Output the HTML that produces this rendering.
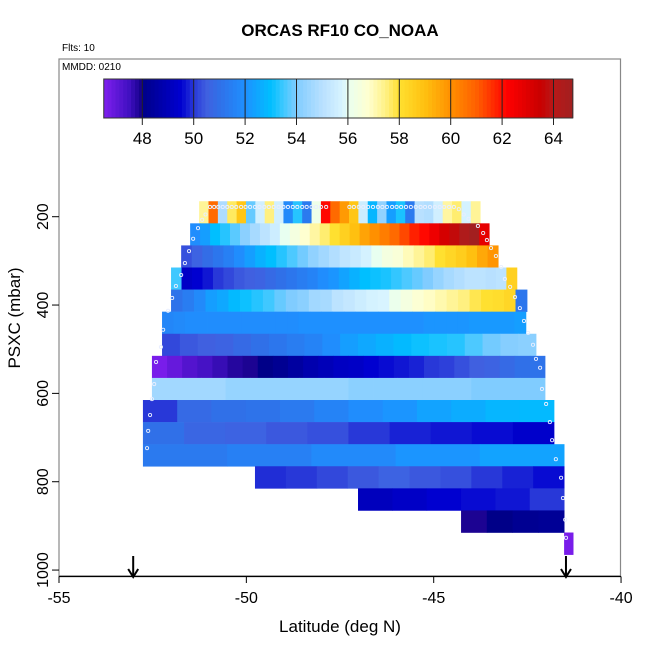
<!DOCTYPE html>
<html><head><meta charset="utf-8"><style>
html,body{margin:0;padding:0;background:#fff;}
svg{display:block;font-family:"Liberation Sans",Arial,sans-serif;}
</style></head><body>
<svg id="chart" width="650" height="650" viewBox="0 0 650 650">
<rect width="650" height="650" fill="#fff"/>
<text x="340" y="36" font-size="17" font-weight="bold" text-anchor="middle">ORCAS RF10 CO_NOAA</text>
<text x="62" y="51" font-size="10">Flts: 10</text>
<g id="cells"></g>
<g id="track"></g>
<g id="cbar"></g>
<rect x="59" y="59" width="561.5" height="517" fill="none" stroke="#888" stroke-width="1.2"/>
<line x1="59" y1="576.5" x2="621" y2="576.5" stroke="#000" stroke-width="1.2"/>
<text x="62" y="70" font-size="10">MMDD: 0210</text>
<g id="axes"></g>
<text x="340" y="632" font-size="17" text-anchor="middle">Latitude (deg N)</text>
<text transform="translate(20,318) rotate(-90)" font-size="17" text-anchor="middle">PSXC (mbar)</text>
</svg>
<script>
// ---- data ----
const rowPressure = [190,240,290,340,390,440,490,540,590,640,690,740,790,840,890,940];
const rowLatStart = [-51.26,-51.50,-51.74,-52.01,-52.01,-52.25,-52.25,-52.52,-52.52,-52.76,-52.76,-52.76,-49.77,-47.02,-44.27,-41.52];
const rowLatEnd   = [-43.76,-43.52,-43.28,-42.78,-42.51,-42.54,-42.27,-42.03,-42.03,-41.79,-41.79,-41.52,-41.52,-41.52,-41.52,-41.28];
const rowValues = [
 [57.3,60.8,54.8,57.7,58.8,53.8,55.6,57.5,55.6,51.8,53.3,51.3,56.2,62.1,60.8,59.8,58.8,55.5,52.8,54.3,52.3,53.2,51.3,55,54.9,55.6,57.2,57.6,55.7,57.3],
 [51.9,52.3,53,53.3,53.7,54.2,54.7,55.1,55.5,56.0,56.4,56.8,57.2,57.6,58.0,58.5,59,59.6,60,60.4,60.8,61.3,61.8,62.1,62.6,63.2,63.7,64.3,64.7,62.8],
 [50.3,50.6,50.9,51.2,51.5,51.9,52.3,52.7,53,53.3,53.6,53.9,54.3,54.6,54.9,55.2,55.4,55.7,56,56.4,56.6,57,57.3,57.6,58,58.3,58.6,59.0,59.5,59.9],
 [53.5,49.3,49.5,49.7,50,50.2,50.4,50.5,50.6,50.8,51,51.2,51.4,51.6,51.9,52.1,52.4,52.7,53,53.1,53.2,53.4,53.6,53.8,54,54.4,54.7,54.9,55.1,55.1,55.0,55.1,58.5],
 [51.1,51.4,51.8,52.3,52.5,52.9,53.1,53.3,53.5,53.8,54,54.2,54.6,54.7,55.1,55.3,55.5,55.7,55.8,56.1,56.4,56.7,56.9,57.1,57.3,57.5,57.8,58,58.1,58.3,51.2],
 [51.7,51.8,51.9,51.9,51.9,51.9,51.9,51.9,51.9,51.9,51.9,51.9,52,52,52,52,52,52,52,52,52,52,52,52.1,52.1,52.1,52.1,52.2,52.2,52.2,52.2,52.3],
 [50.2,50.4,50.5,50.6,50.8,51.0,51.2,51.4,51.6,51.9,52.3,52.5,52.7,52.9,53.1,53.2,53.3,53.6,53.9,54.1,54.2],
 [46.6,46.9,47.2,47.4,47.6,47.8,47.9,48.0,48.2,48.5,48.8,49.0,49.2,49.3,49.5,49.6,49.7,49.8,50.0,50.1,50.3,50.5,50.6,50.8,51.0,51.1],
 [54.6,54.6,54.6,54.4,54.4,54.4,54.4,54.4,54.2,54.2,54.2,54.2,54.2,54.0,54.0,54.0],
 [50.0,50.8,51.0,51.1,51.3,51.6,51.9,52.1,52.4,52.6,52.8,52.9],
 [51.0,50.7,50.6,50.4,50.3,50.0,49.8,49.7,49.6,49.4],
 [51.3,51.5,51.8,52.1,52.4],
 [49.9,50.0,50.2,50.4,50.6,50.4,50.3,50.0,49.8,49.6],
 [49.1,49.3,49.5,49.6,49.7,50.0],
 [47.9,48.0,48.2,48.3],
 [46.6]
];
const topDotLat = [-50.97,-50.86,-50.75,-50.63,-50.51,-50.39,-50.27,-50.14,-50.02,-49.90,-49.77,-49.65,-49.52,-49.40,-49.27,-49.14,-49.01,-48.89,-48.76,-48.64,-48.51,-48.39,-48.26,-48.14,-48.01,-47.87,-47.25,-47.13,-47.00,-46.88,-46.75,-46.62,-46.49,-46.37,-46.25,-46.11,-45.99,-45.87,-45.74,-45.61,-45.48,-45.35,-45.23,-45.10,-44.97,-44.84,-44.72,-44.59,-44.46];
const topDotP = 178;
const edgeLat = [-51.09,-51.18,-51.29,-51.42,-51.53,-51.64,-51.74,-51.88,-51.98,-52.09,-52.22,-52.28,-52.41,-52.46,-52.52,-52.57,-52.62,-52.65,
 -44.33,-44.20,-44.07,-43.82,-43.68,-43.58,-43.47,-43.34,-43.20,-43.10,-42.96,-42.83,-42.70,-42.59,-42.48,-42.35,-42.27,-42.16,-42.11,-42.00,-41.90,-41.84,-41.74,-41.60,-41.55,-41.49,-41.47];
const edgeP = [195,207,226,250,278,305,332,357,384,413,456,495,529,579,613,649,685,724,
 183,195,205,221,237,253,271,289,314,341,359,382,407,436,463,490,522,542,590,624,665,706,749,791,837,886,927];
const xTicks = [-55,-50,-45,-40];
const yTicks = [200,400,600,800,1000];
const cbTicks = [48,50,52,54,56,58,60,62,64];
const arrowLat = [-53.02,-41.47];

// ---- scales ----
const X = lat => 59 + (lat + 55) * 37.47;
const Y = p => 216.7 + (p - 200) * 0.4417;
const CBX = v => 142.3 + (v - 48) * 25.7;
const stops = [[46.5,[127,31,239]],[47.5,[64,16,192]],[47.99,[20,0,136]],[48,[0,0,136]],[49,[0,0,184]],[49.5,[0,0,208]],[50,[40,56,216]],[50.5,[64,96,224]],[51,[48,112,232]],[52,[30,144,255]],[53,[0,191,255]],[53.5,[64,200,255]],[54,[128,204,255]],[55,[184,224,255]],[55.8,[216,244,255]],[56,[232,255,240]],[56.8,[255,255,208]],[57.5,[255,240,128]],[58,[255,224,48]],[59,[255,192,16]],[60,[255,144,0]],[61,[255,96,0]],[62,[255,16,0]],[62.2,[255,0,0]],[63.5,[200,0,0]],[64,[184,24,24]],[64.8,[160,32,32]]];
function col(v){
  if(v<=stops[0][0]) return 'rgb('+stops[0][1]+')';
  for(let i=1;i<stops.length;i++){
    if(v<=stops[i][0]){
      const a=stops[i-1],b=stops[i],t=(v-a[0])/(b[0]-a[0]);
      return 'rgb('+a[1].map((c,k)=>Math.round(c+(b[1][k]-c)*t)).join(',')+')';
    }
  }
  return 'rgb('+stops[stops.length-1][1]+')';
}
const NS='http://www.w3.org/2000/svg';
function mk(tag,attrs,parent){const e=document.createElementNS(NS,tag);for(const k in attrs)e.setAttribute(k,attrs[k]);parent.appendChild(e);return e;}

// heatmap
const cells=document.getElementById('cells');
rowValues.forEach((vals,r)=>{
  const x0=X(rowLatStart[r]),x1=X(rowLatEnd[r]),w=(x1-x0)/vals.length;
  const y0=Y(rowPressure[r]-25),y1=Y(rowPressure[r]+25);
  vals.forEach((v,i)=>{
    const c=mk('rect',{x:(x0+i*w).toFixed(2),y:y0.toFixed(2),width:(w+0.4).toFixed(2),height:(y1-y0+0.3).toFixed(2),fill:col(v)},cells);
    
    
  });
});
// track dots
const track=document.getElementById('track');
topDotLat.forEach(l=>{
  const d=mk('circle',{cx:X(l),cy:Y(topDotP),r:1.6,fill:'none',stroke:'#e8eeff','stroke-width':0.9},track);
  
  
});
edgeLat.forEach((l,i)=>{
  const d=mk('circle',{cx:X(l),cy:Y(edgeP[i]),r:1.6,fill:'none',stroke:'#e8eeff','stroke-width':0.9},track);
  
  
});
// colorbar
const cb=document.getElementById('cbar');
const cbMin=46.5,cbMax=64.75,n=120;
for(let i=0;i<n;i++){
  const v0=cbMin+(cbMax-cbMin)*i/n,v1=cbMin+(cbMax-cbMin)*(i+1)/n;
  mk('rect',{x:CBX(v0),y:79,width:CBX(v1)-CBX(v0)+0.5,height:39,fill:col((v0+v1)/2)},cb);
}
mk('rect',{x:CBX(cbMin),y:79,width:CBX(cbMax)-CBX(cbMin),height:39,fill:'none',stroke:'#333','stroke-width':1},cb);
cbTicks.forEach(t=>{
  const x=CBX(t);
  mk('line',{x1:x,y1:79,x2:x,y2:125,stroke:'#222','stroke-width':1},cb);
  const tx=mk('text',{x:x,y:144,'font-size':17,'text-anchor':'middle'},cb);
  tx.textContent=t;
  
  
});
// axes
const ax=document.getElementById('axes');
xTicks.forEach(t=>{
  const x=X(t);
  mk('line',{x1:x,y1:576.5,x2:x,y2:583,stroke:'#000'},ax);
  const tx=mk('text',{x:x,y:603,'font-size':16,'text-anchor':'middle'},ax);
  tx.textContent=t;
  
  
});
yTicks.forEach(t=>{
  const y=Y(t);
  mk('line',{x1:52,y1:y,x2:59,y2:y,stroke:'#000'},ax);
  const tx=mk('text',{transform:'translate(48,'+y+') rotate(-90)','font-size':16,'text-anchor':'middle'},ax);
  tx.textContent=t;
  
  
});
arrowLat.forEach(l=>{
  const x=X(l);
  const g=mk('g',{},ax);
  
  
  mk('line',{x1:x,y1:556,x2:x,y2:576,stroke:'#000','stroke-width':2},g);
  mk('path',{d:`M${x-5},${569} L${x},${577} L${x+5},${569}`,fill:'none',stroke:'#000','stroke-width':2},g);
});
</script>
</body></html>
